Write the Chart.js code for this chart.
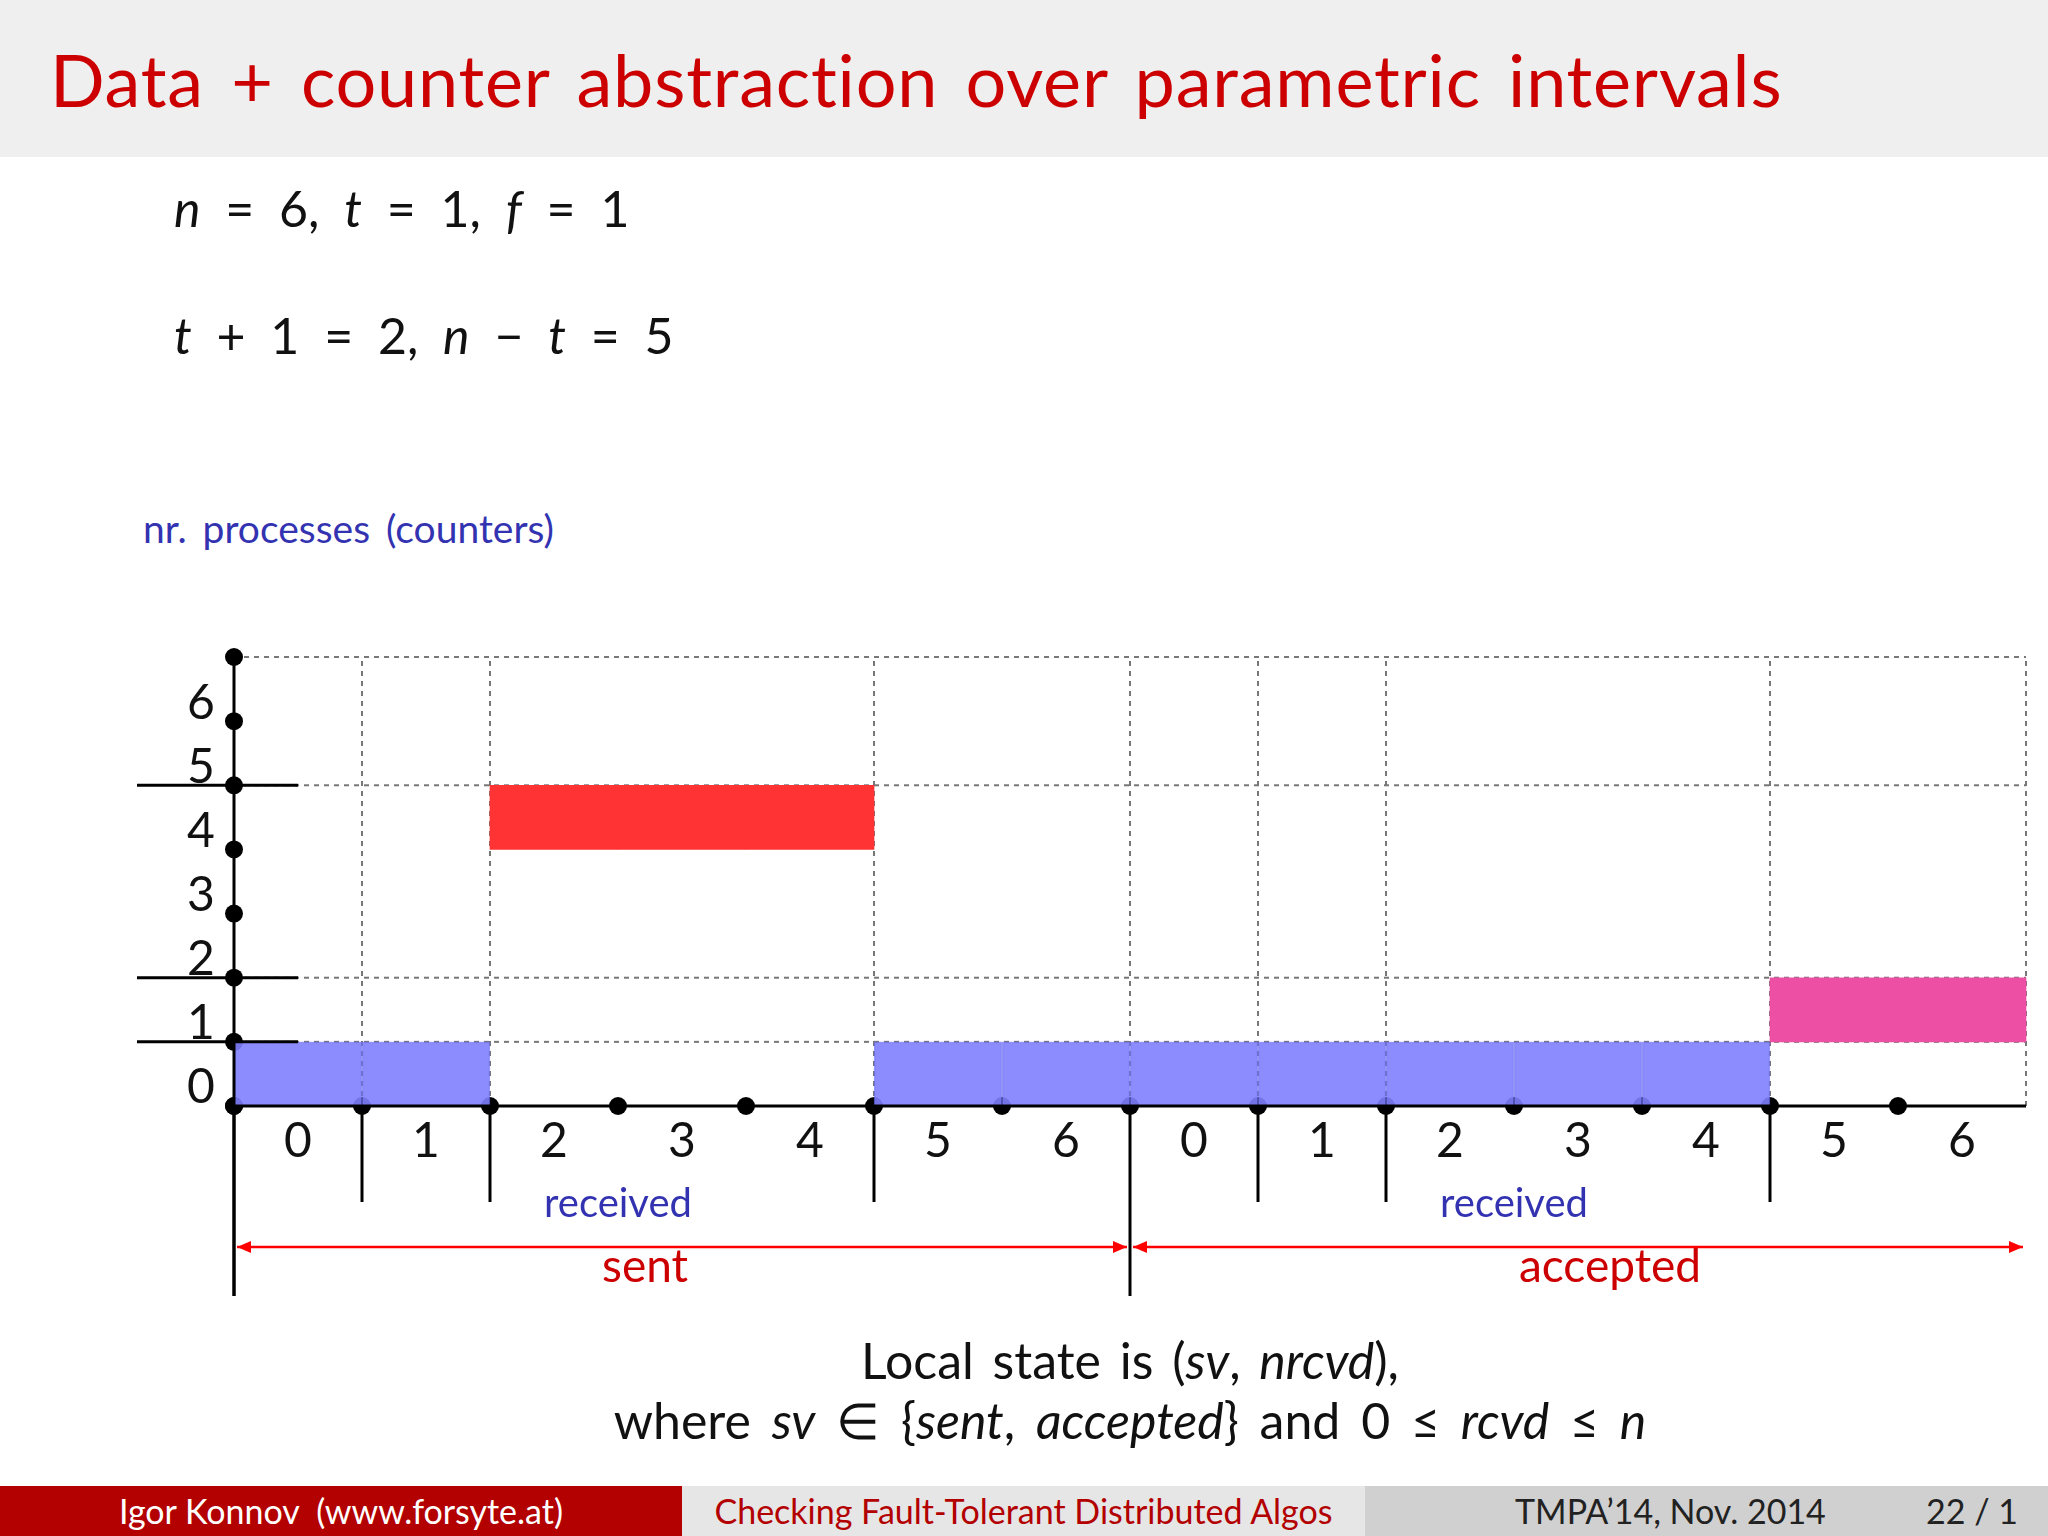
<!DOCTYPE html>
<html><head><meta charset="utf-8">
<script src="https://cdn.jsdelivr.net/npm/chart.js@4"></script>
<style>
body{margin:0;width:2048px;height:1536px;position:relative;background:#fff;font-family:Lato,"Open Sans",sans-serif;overflow:hidden}
.t{position:absolute;white-space:nowrap}
#title{left:0;top:0;width:2048px;height:157px;background:#efefef}
#title span{position:absolute;left:50px;top:36px;font-size:72px;color:#cc0000;word-spacing:8px;letter-spacing:0.8px}
.m{font-size:50px;color:#111}
.sp{word-spacing:12px}
i{font-style:italic}
#foot{position:absolute;left:0;top:1486px;width:2048px;height:50px;font-size:34px}
#foot div{position:absolute;top:0;height:50px;line-height:50px}
canvas{position:absolute;left:0;top:0}
</style></head><body>
<div id="title"><span>Data + counter abstraction over parametric intervals</span></div>
<div class="t m sp" style="left:174px;top:178px"><i>n</i> = 6, <i>t</i> = 1, <i>f</i> = 1</div>
<div class="t m sp" style="left:174px;top:305px"><i>t</i> + 1 = 2, <i>n</i> − <i>t</i> = 5</div>
<div class="t" style="left:143px;top:505px;font-size:39px;color:#3333b2;word-spacing:6px">nr. processes (counters)</div>
<div class="t m" style="left:0;width:2260px;text-align:center;top:1330px;word-spacing:6px">Local state is (<i>sv</i>, <i>nrcvd</i>),</div>
<div class="t m" style="left:0;width:2260px;text-align:center;top:1390px;word-spacing:8px">where <i>sv</i> ∈ {<i>sent</i>, <i>accepted</i>} and 0 ≤ <i>rcvd</i> ≤ <i>n</i></div>
<div id="foot">
<div style="left:0;width:682px;background:#b30000;color:#fff;text-align:center">Igor Konnov &nbsp;(www.forsyte.at)</div>
<div style="left:682px;width:683px;background:#e6e6e6;color:#b30000;text-align:center">Checking Fault-Tolerant Distributed Algos</div>
<div style="left:1365px;width:683px;background:#d0d0d0;color:#222"><span style="position:absolute;left:150px">TMPA’14, Nov. 2014</span><span style="position:absolute;right:30px">22 / 1</span></div>
</div>
<canvas id="c" width="2048" height="1536"></canvas>
<script>
const categories=["0","1","2","3","4","5","6","0","1","2","3","4","5","6"];
const blueRanges=[[0,1],[0,1],null,null,null,[0,1],[0,1],[0,1],[0,1],[0,1],[0,1],[0,1],null,null];
const redRanges=[null,null,[4,5],[4,5],[4,5],null,null,null,null,null,null,null,null,null];
const pinkRanges=[null,null,null,null,null,null,null,null,null,null,null,null,[1,2],[1,2]];
const axisDotsX=[0,1,2,3,4,5,6,7,8,9,10,11,12,13];
const axisDotsY=[0,1,2,3,4,5,6,7];
const yLabels=[0,1,2,3,4,5,6];
const dashedX=[1,2,5,7,8,9,12,14];
const dashedY=[1,2,5,7];
const shortTicksX=[1,2,5,8,9,12];
const longTicksX=[0,7];
const sectionLabels=[["sent",0,7,-37],["accepted",7,14,32]];

const deco={id:'deco',
beforeDatasetsDraw(ch){const c=ch.ctx,xl=ch.scales.xl,y=ch.scales.y;
 c.save();c.strokeStyle='#777';c.lineWidth=2;c.setLineDash([5,5]);
 dashedX.forEach(v=>{c.beginPath();c.moveTo(xl.getPixelForValue(v),y.getPixelForValue(0));c.lineTo(xl.getPixelForValue(v),y.getPixelForValue(7));c.stroke();});
 dashedY.forEach(v=>{c.beginPath();c.moveTo(xl.getPixelForValue(0),y.getPixelForValue(v));c.lineTo(xl.getPixelForValue(14),y.getPixelForValue(v));c.stroke();});
 c.restore();},
afterDatasetsDraw(ch){const c=ch.ctx,xl=ch.scales.xl,y=ch.scales.y;const y0=y.getPixelForValue(0);
 c.save();c.strokeStyle='#000';c.lineWidth=3;
 c.beginPath();c.moveTo(xl.getPixelForValue(0),y0);c.lineTo(xl.getPixelForValue(14),y0);c.stroke();
 c.beginPath();c.moveTo(xl.getPixelForValue(0),y.getPixelForValue(7));c.lineTo(xl.getPixelForValue(0),y0+190);c.stroke();
 shortTicksX.forEach(v=>{c.beginPath();c.moveTo(xl.getPixelForValue(v),y0);c.lineTo(xl.getPixelForValue(v),y0+96);c.stroke();});
 longTicksX.forEach(v=>{c.beginPath();c.moveTo(xl.getPixelForValue(v),y0);c.lineTo(xl.getPixelForValue(v),y0+190);c.stroke();});
 [1,2,5].forEach(v=>{c.beginPath();c.moveTo(137,y.getPixelForValue(v));c.lineTo(298,y.getPixelForValue(v));c.stroke();});
 c.fillStyle='#111';c.font='48px Lato';c.textAlign='center';c.textBaseline='middle';
 categories.forEach((l,i)=>c.fillText(l,xl.getPixelForValue(i+0.5),y0+36));
 yLabels.forEach(v=>c.fillText(String(v),201,y.getPixelForValue(v)-18));
 c.fillStyle='#3333b2';c.font='40px Lato';
 c.fillText('received',xl.getPixelForValue(3),y0+98);c.fillText('received',xl.getPixelForValue(10),y0+98);
 const ay=y0+141;c.strokeStyle='#f00';c.fillStyle='#f00';c.lineWidth=2.5;
 sectionLabels.forEach(([t,a,b,off])=>{const xa=xl.getPixelForValue(a)+3,xb=xl.getPixelForValue(b)-3;
  c.beginPath();c.moveTo(xa,ay);c.lineTo(xb,ay);c.stroke();
  c.beginPath();c.moveTo(xa,ay);c.lineTo(xa+14,ay-6);c.lineTo(xa+14,ay+6);c.fill();
  c.beginPath();c.moveTo(xb,ay);c.lineTo(xb-14,ay-6);c.lineTo(xb-14,ay+6);c.fill();
  c.fillStyle='#cc0000';c.font='46px Lato';c.fillText(t,(xa+xb)/2+off,ay+20);c.fillStyle='#f00';});
 c.restore();}};

new Chart(document.getElementById('c'),{
 data:{labels:categories,datasets:[
  {type:'bar',data:blueRanges,backgroundColor:'rgba(128,128,255,0.9)',borderColor:'rgba(100,100,230,0.6)',borderWidth:1,grouped:false,barPercentage:1,categoryPercentage:1,xAxisID:'x'},
  {type:'bar',data:redRanges,backgroundColor:'#ff3333',grouped:false,barPercentage:1,categoryPercentage:1,xAxisID:'x'},
  {type:'bar',data:pinkRanges,backgroundColor:'#ec4fa3',grouped:false,barPercentage:1,categoryPercentage:1,xAxisID:'x'},
  {type:'scatter',data:axisDotsX.map(v=>({x:v,y:0})),xAxisID:'xl',pointRadius:9,backgroundColor:'#000',borderWidth:0},
  {type:'scatter',data:axisDotsY.map(v=>({x:0,y:v})),xAxisID:'xl',pointRadius:9,backgroundColor:'#000',borderWidth:0}
 ]},
 options:{responsive:false,animation:false,clip:false,
  layout:{padding:{left:234,right:22,top:657,bottom:430}},
  plugins:{legend:{display:false},tooltip:{enabled:false}},
  scales:{x:{type:'category',offset:true,display:false},
   xl:{type:'linear',min:0,max:14,display:false},
   y:{min:0,max:7,display:false}}},
 plugins:[deco]});
</script></body></html>
